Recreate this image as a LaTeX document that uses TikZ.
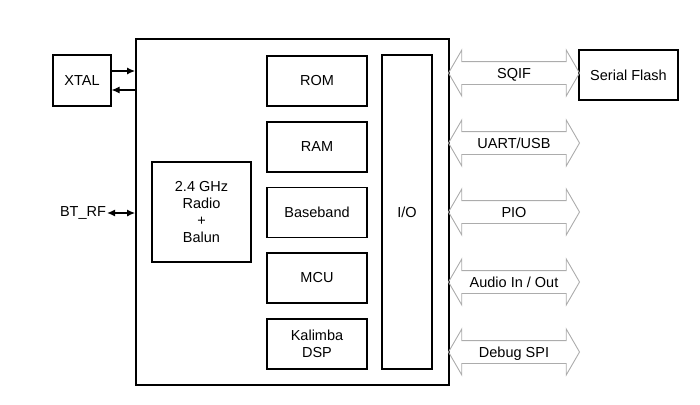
\documentclass[tikz,border=0pt]{standalone}
\usepackage{fontspec}
\setmainfont{Liberation Sans}
\usepackage{tikz}
\usetikzlibrary{positioning,calc,shapes.arrows,arrows.meta}
\tikzset{block/.style={draw,line width=1.1pt,align=center,inner sep=0pt,
           font=\fontsize{14.5}{17}\selectfont},
         chipbox/.style={draw,line width=1.9pt,inner sep=0pt},
         bus/.style={double arrow,draw=gray!65,line width=0.9pt,
           double arrow head extend=11.5pt,double arrow tip angle=120,
           minimum height=131pt,minimum width=44pt,inner xsep=0pt,inner ysep=4.5pt,
           text height=11.5pt,text depth=1.5pt,
           font=\fontsize{14.5}{17}\selectfont},
         line/.style={-{Latex[length=8pt,width=7pt]},line width=1.1pt}
}
\begin{document}
\begin{tikzpicture}[x=1pt,y=1pt,yscale=-1,xscale=1]
\useasboundingbox (0,0) rectangle (700,404);

%Chip outline
\node [chipbox, minimum width=313pt, minimum height=346pt] (chip) at (292.5,212) {};
%Crystal
\node [block, minimum width=58pt, minimum height=51pt] (xtal) at (82,80.5) {XTAL};
%Radio
\node [block, minimum width=99pt, minimum height=100pt] (radio) at (201.5,212) {2.4 GHz\\Radio\\+\\Balun};
%Core blocks
\node [block, minimum width=100pt, minimum height=50pt] (rom) at (317,81) {ROM};
\node [block, minimum width=100pt, minimum height=50pt] (ram) at (317,147) {RAM};
\node [block, minimum width=100pt, minimum height=50pt] (baseband) at (317,212.5) {Baseband};
\node [block, minimum width=100pt, minimum height=50pt] (mcu) at (317,278) {MCU};
\node [block, minimum width=100pt, minimum height=50pt] (dsp) at (317,344) {Kalimba\\DSP};
%I/O
\node [block, minimum width=50pt, minimum height=314pt] (io) at (407,212) {I/O};
%Serial flash
\node [block, minimum width=99pt, minimum height=50pt] (flash) at (628.5,75) {Serial Flash};

%Buses
\node [bus] (sqif) at (514,73) {SQIF};
\node [bus] (uart) at (514,143) {UART/USB};
\node [bus] (pio) at (514,212) {PIO};
\node [bus] (audio) at (514,282) {Audio In / Out};
\node [bus] (debug) at (514,352) {Debug SPI};

%Crystal lines
\draw [line] ([yshift=-9.5pt]xtal.east) -- ([yshift=-9.5pt]xtal.east -| chip.west);
\draw [line] ([yshift=9.5pt]xtal.east -| chip.west) -- ([yshift=9.5pt]xtal.east);

% Text Node
\node [font=\fontsize{14.5}{17}\selectfont, inner sep=1pt] (btrf) at (83,213) {BT\_RF};
\draw [{Latex[length=8pt,width=7pt]}-{Latex[length=8pt,width=7pt]}, line width=1.1pt] (btrf) -- (btrf -| chip.west);

\end{tikzpicture}
\end{document}
